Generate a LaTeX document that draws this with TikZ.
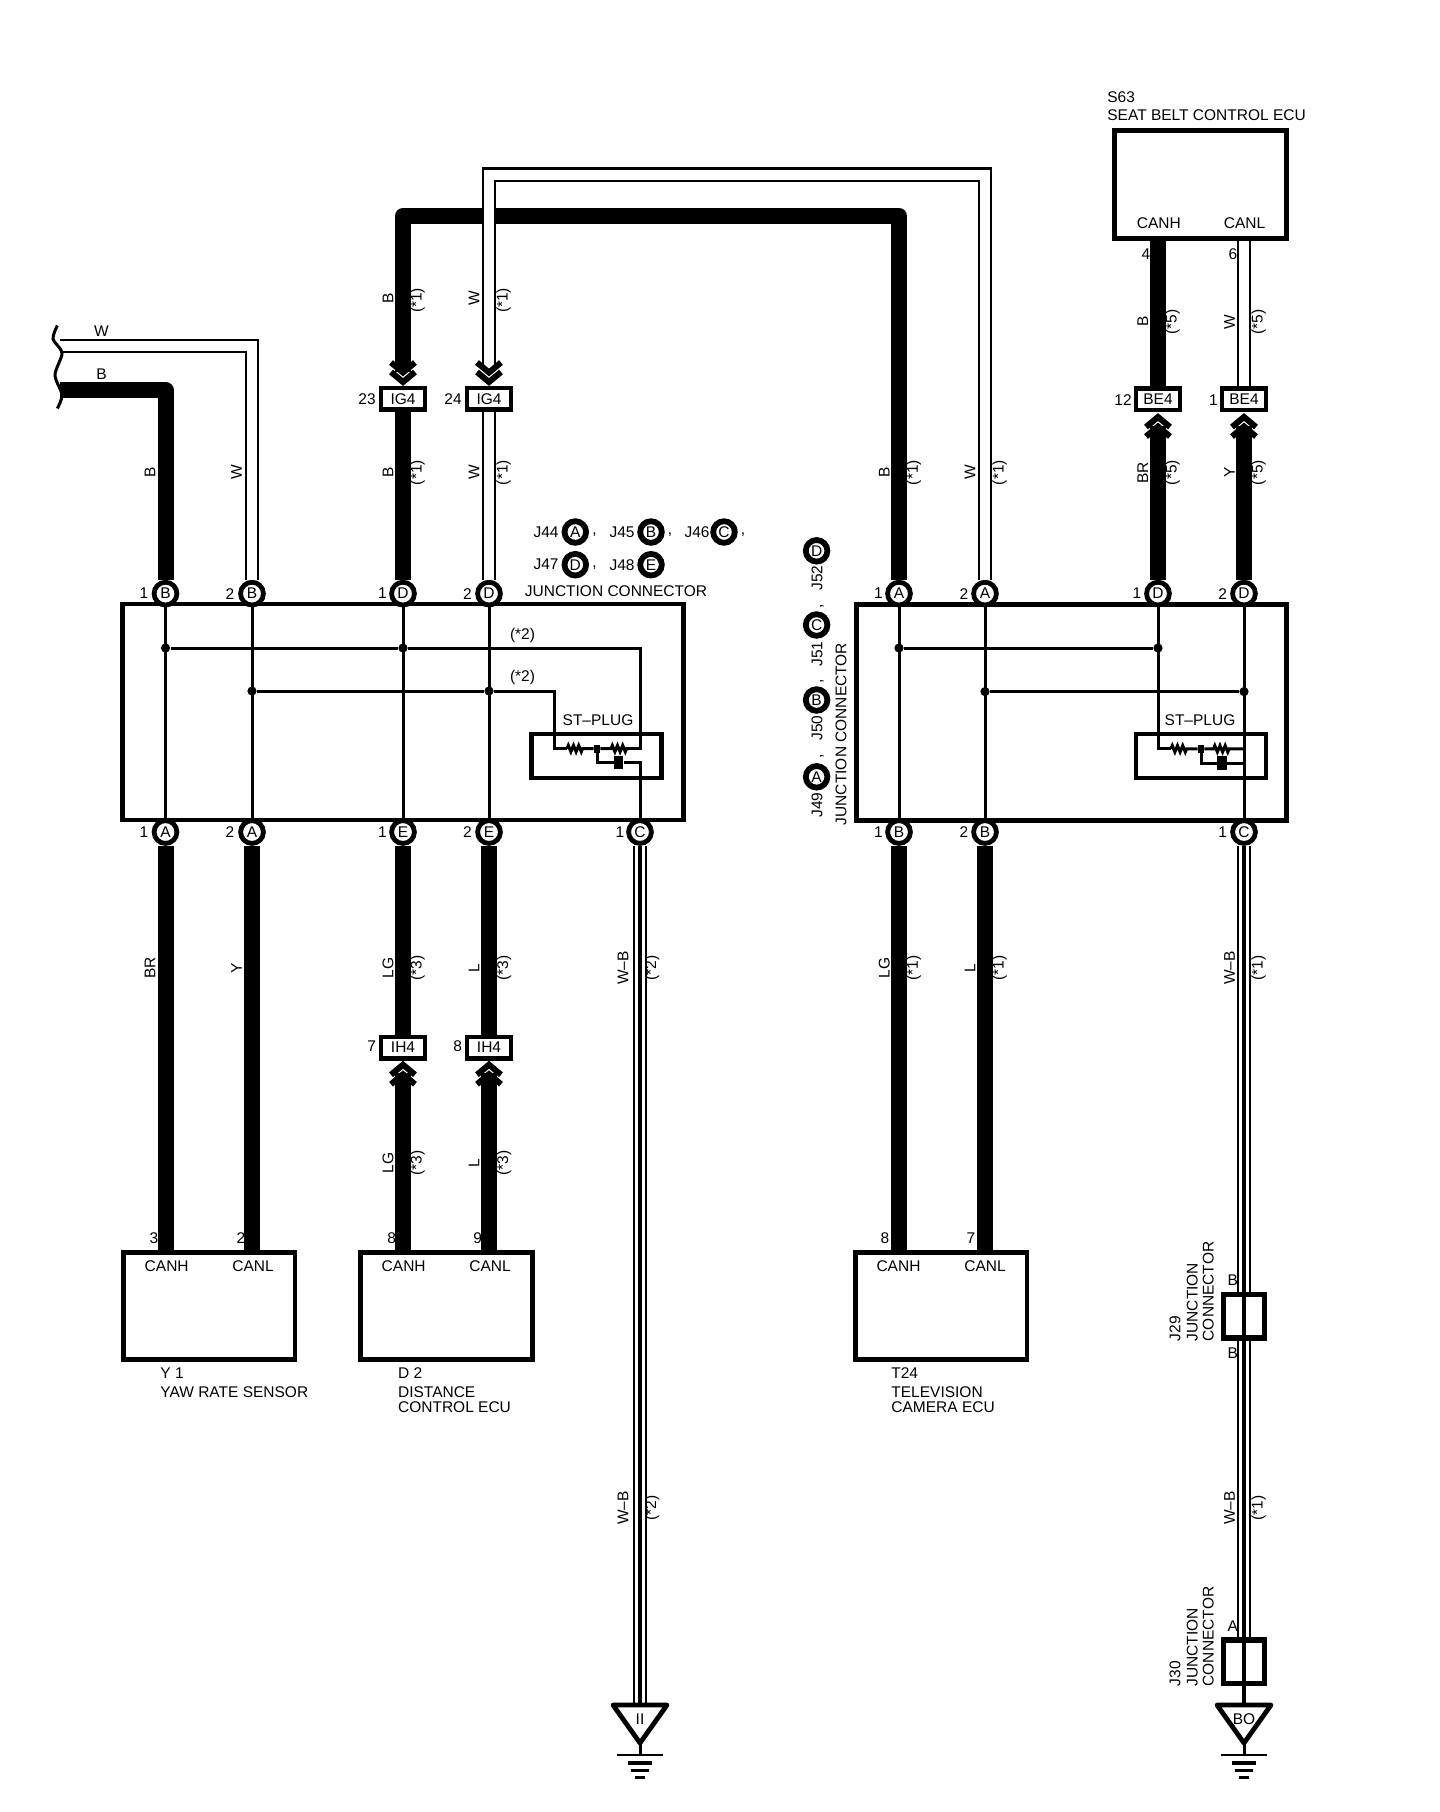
\documentclass[tikz,border=0pt]{standalone}
\usepackage{fontspec}
\setmainfont{Liberation Sans}
\usetikzlibrary{decorations.pathmorphing}
\tikzset{
    lab/.style={inner sep=0pt, font=\fontsize{7.75}{9}\selectfont},
    vlab/.style={lab, rotate=90},
    ecubox/.style={draw, line width=2.4pt, inner sep=0pt},
    connbox/.style={draw, fill=white, line width=2.2pt, inner sep=0pt, minimum width=22.1pt, minimum height=10.8pt, font=\fontsize{7.75}{9}\selectfont},
    juncbox/.style={draw, fill=white, line width=2.6pt, inner sep=0pt, minimum width=20.6pt, minimum height=21.6pt},
    pinc/.style={circle, draw, fill=white, line width=2.4pt, inner sep=0pt, minimum size=11.4pt, font=\fontsize{7.75}{9}\selectfont},
    legpin/.style={circle, draw, fill=white, line width=2.9pt, inner sep=0pt, minimum size=10.8pt, font=\fontsize{7.75}{9}\selectfont},
    dot/.style={circle, fill=black, inner sep=0pt, minimum size=4.6pt},
    sqdot/.style={rectangle, fill=black, inner sep=0pt, minimum width=3pt, minimum height=4pt},
    capn/.style={rectangle, fill=black, inner sep=0pt, minimum width=4.6pt, minimum height=6.6pt},
    thickwire/.style={line width=8pt, line join=round},
    dblwire/.style={draw=black, line width=1.2pt, double=white, double distance=5pt},
    corewire/.style={line width=2pt},
    sigline/.style={line width=1.5pt},
    resist/.style={decoration={zigzag, segment length=2.6pt, amplitude=1.6pt}},
    chevs/.pic={
        \draw[line width=3pt] (-12,14) -- (0,4) -- (12,14);
        \draw[line width=3pt] (-12,23.5) -- (0,13.5) -- (12,23.5);
    },
    gndsym/.pic={
        \draw[line width=2.4pt, line join=round] (-27,0) -- (27,0) -- (0,38) -- cycle;
        \draw[line width=1.5pt] (0,38) -- (0,50);
        \draw[line width=1.2pt] (-23,50) -- (23,50);
        \draw[line width=1.7pt] (-12,58) -- (12,58);
        \draw[line width=1.5pt] (-9,65) -- (9,65);
        \draw[line width=1.5pt] (-5,72) -- (5,72);
    }
}
\begin{document}
\begin{tikzpicture}[x=0.5pt, y=-0.5pt]
    \useasboundingbox (0,0) rectangle (1440,1812);

    \node[ecubox, minimum width=280.3pt, minimum height=108pt] (jbl) at (402.8,712) {};
    \node[ecubox, minimum width=215.2pt, minimum height=108pt] (jbr) at (1071.4,712.5) {};
    \node[ecubox, minimum width=65pt, minimum height=22pt] (stl) at (596.5,756) {};
    \node[ecubox, minimum width=65pt, minimum height=22pt] (str) at (1201,756) {};
    \node[ecubox, minimum width=85.9pt, minimum height=53.8pt] (ybox) at (209,1306) {};
    \node[ecubox, minimum width=85.9pt, minimum height=53.8pt] (dbox) at (446.2,1306) {};
    \node[ecubox, minimum width=85.9pt, minimum height=53.8pt] (tbox) at (941,1306) {};
    \node[ecubox, minimum width=85.9pt, minimum height=53.8pt] (sbox) at (1200.4,184.5) {};

    \node[pinc] (pb1) at (165.5,593.6) {B};
    \node[pinc] (pb2) at (252,593.6) {B};
    \node[pinc] (pd1) at (403,593.6) {D};
    \node[pinc] (pd2) at (489,593.6) {D};
    \node[pinc] (pa1) at (165.5,832) {A};
    \node[pinc] (pa2) at (252,832) {A};
    \node[pinc] (pe1) at (403,832) {E};
    \node[pinc] (pe2) at (489,832) {E};
    \node[pinc] (pc1) at (640,832) {C};
    \node[pinc] (qa1) at (899,593.6) {A};
    \node[pinc] (qa2) at (985,593.6) {A};
    \node[pinc] (qd1) at (1158,593.6) {D};
    \node[pinc] (qd2) at (1244,593.6) {D};
    \node[pinc] (qb1) at (899,832) {B};
    \node[pinc] (qb2) at (985,832) {B};
    \node[pinc] (qc1) at (1244,832) {C};

    \node[connbox] (ig1) at (403,398.7) {IG4};
    \node[connbox] (ig2) at (489,398.7) {IG4};
    \node[connbox] (be1) at (1158,399.3) {BE4};
    \node[connbox] (be2) at (1244,399.3) {BE4};
    \node[connbox] (ih1) at (403,1047.5) {IH4};
    \node[connbox] (ih2) at (489,1047.5) {IH4};
    \node[juncbox] (j29) at (1244,1316.3) {};
    \node[juncbox] (j30) at (1244,1661.6) {};

    \node[lab] (n1) at (144,593.6) {1};
    \node[lab] (n2) at (230,593.6) {2};
    \node[lab] (n3) at (382.5,593.6) {1};
    \node[lab] (n4) at (467.4,593.6) {2};
    \node[lab] (n5) at (144,832) {1};
    \node[lab] (n6) at (230,832) {2};
    \node[lab] (n7) at (382.5,832) {1};
    \node[lab] (n8) at (467.4,832) {2};
    \node[lab] (n9) at (620,832) {1};
    \node[lab] (n10) at (878.5,593.6) {1};
    \node[lab] (n11) at (964,593.6) {2};
    \node[lab] (n12) at (1137,593.6) {1};
    \node[lab] (n13) at (1222.8,593.6) {2};
    \node[lab] (n14) at (878.5,832) {1};
    \node[lab] (n15) at (964,832) {2};
    \node[lab] (n16) at (1222.8,832) {1};
    \node[lab] (n17) at (367,399) {23};
    \node[lab] (n18) at (453,399) {24};
    \node[lab] (n19) at (1123,399.7) {12};
    \node[lab] (n20) at (1213.5,399.7) {1};
    \node[lab] (n21) at (371.7,1046) {7};
    \node[lab] (n22) at (457.7,1046) {8};
    \node[lab] (n23) at (154,1237.7) {3};
    \node[lab] (n24) at (241,1237.7) {2};
    \node[lab] (n25) at (391.7,1237.7) {8};
    \node[lab] (n26) at (477.7,1237.7) {9};
    \node[lab] (n27) at (885,1237.7) {8};
    \node[lab] (n28) at (971,1237.7) {7};
    \node[lab] (n29) at (1146,254) {4};
    \node[lab] (n30) at (1233,254) {6};

    \node[lab] (ch1) at (166.7,1266) {CANH};
    \node[lab] (cl1) at (253,1266) {CANL};
    \node[lab] (ch2) at (403.7,1266) {CANH};
    \node[lab] (cl2) at (490,1266) {CANL};
    \node[lab] (ch3) at (898.5,1266) {CANH};
    \node[lab] (cl3) at (985,1266) {CANL};
    \node[lab] (ch4) at (1158.8,223) {CANH};
    \node[lab] (cl4) at (1244.6,223) {CANL};

    \node[lab, anchor=west] (y1a) at (160,1373) {Y 1};
    \node[lab, anchor=west] (y1b) at (160,1391.7) {YAW RATE SENSOR};
    \node[lab, anchor=west] (d2a) at (397.7,1373) {D 2};
    \node[lab, anchor=west] (d2b) at (397.7,1391.7) {DISTANCE};
    \node[lab, anchor=west] (d2c) at (397.7,1407) {CONTROL ECU};
    \node[lab, anchor=west] (t2a) at (891,1373) {T24};
    \node[lab, anchor=west] (t2b) at (891,1391.7) {TELEVISION};
    \node[lab, anchor=west] (t2c) at (891,1407) {CAMERA ECU};
    \node[lab, anchor=west] (s6a) at (1107,96.7) {S63};
    \node[lab, anchor=west] (s6b) at (1107,115) {SEAT BELT CONTROL ECU};

    \node[lab] (tw) at (101.5,331.4) {W};
    \node[lab] (tb) at (101.5,374) {B};
    \node[vlab] (w1) at (150,472.6) {B};
    \node[vlab] (w2) at (236.5,472.6) {W};
    \node[vlab] (w3) at (388,298) {B};
    \node[vlab] (w4) at (417.5,300.5) {(*1)};
    \node[vlab] (w5) at (474,298) {W};
    \node[vlab] (w6) at (503.7,300.5) {(*1)};
    \node[vlab] (w7) at (388,472.6) {B};
    \node[vlab] (w8) at (417.5,472.6) {(*1)};
    \node[vlab] (w9) at (474,472.6) {W};
    \node[vlab] (w10) at (503.7,472.6) {(*1)};
    \node[vlab] (w11) at (884.4,472.6) {B};
    \node[vlab] (w12) at (913.8,472.6) {(*1)};
    \node[vlab] (w13) at (970,472.6) {W};
    \node[vlab] (w14) at (999.7,472.6) {(*1)};
    \node[vlab] (w15) at (1142.8,321.7) {B};
    \node[vlab] (w16) at (1172.7,321.7) {(*5)};
    \node[vlab] (w17) at (1229.5,321.7) {W};
    \node[vlab] (w18) at (1258.5,321.7) {(*5)};
    \node[vlab] (w19) at (1142.8,472.6) {BR};
    \node[vlab] (w20) at (1172.7,472.6) {(*5)};
    \node[vlab] (w21) at (1229.5,472.6) {Y};
    \node[vlab] (w22) at (1258.5,472.6) {(*5)};
    \node[vlab] (w23) at (150,968) {BR};
    \node[vlab] (w24) at (236.5,968) {Y};
    \node[vlab] (w25) at (388,968) {LG};
    \node[vlab] (w26) at (417.5,968) {(*3)};
    \node[vlab] (w27) at (474,968) {L};
    \node[vlab] (w28) at (504,968) {(*3)};
    \node[vlab] (w29) at (388,1162.7) {LG};
    \node[vlab] (w30) at (417.5,1162.7) {(*3)};
    \node[vlab] (w31) at (474,1162.7) {L};
    \node[vlab] (w32) at (504,1162.7) {(*3)};
    \node[vlab] (w33) at (623,968) {W--B};
    \node[vlab] (w34) at (652,968) {(*2)};
    \node[vlab] (w35) at (623,1508) {W--B};
    \node[vlab] (w36) at (652,1508) {(*2)};
    \node[vlab] (w37) at (884.4,968) {LG};
    \node[vlab] (w38) at (913.8,968) {(*1)};
    \node[vlab] (w39) at (970,968) {L};
    \node[vlab] (w40) at (999.7,968) {(*1)};
    \node[vlab] (w41) at (1229.5,968) {W--B};
    \node[vlab] (w42) at (1258.5,968) {(*1)};
    \node[vlab] (w43) at (1229.5,1508) {W--B};
    \node[vlab] (w44) at (1258.5,1508) {(*1)};

    \node[lab] (s1) at (522.5,635) {(*2)};
    \node[lab] (s2) at (522.5,677.5) {(*2)};
    \node[lab] (st1) at (598,720) {ST--PLUG};
    \node[lab] (st2) at (1200,720) {ST--PLUG};

    \node[lab] (jl1) at (546,532) {J44};
    \node[legpin] (la) at (575.3,532) {A};
    \node[lab] (jc1) at (594.6,535) {,};
    \node[lab] (jl2) at (622,532) {J45};
    \node[legpin] (lb) at (651,532) {B};
    \node[lab] (jc2) at (670,535) {,};
    \node[lab] (jl3) at (697,532) {J46};
    \node[legpin] (lc) at (724,532) {C};
    \node[lab] (jc3) at (743,535) {,};
    \node[lab] (jl4) at (546,564.7) {J47};
    \node[legpin] (ld) at (575.3,564.7) {D};
    \node[lab] (jc4) at (594.6,568) {,};
    \node[lab] (jl5) at (622,564.7) {J48};
    \node[legpin] (le) at (651,564.7) {E};
    \node[lab] (jt1) at (616,590.8) {JUNCTION CONNECTOR};

    \node[vlab] (jr1) at (817,805) {J49};
    \node[legpin] (ra) at (816.6,776.8) {A};
    \node[vlab] (jd1) at (822,756) {,};
    \node[vlab] (jr2) at (817,728) {J50};
    \node[legpin] (rb) at (816.6,700) {B};
    \node[vlab] (jd2) at (822,681) {,};
    \node[vlab] (jr3) at (817,654) {J51};
    \node[legpin] (rc) at (816.6,625) {C};
    \node[vlab] (jd3) at (822,606) {,};
    \node[vlab] (jr4) at (817,578) {J52};
    \node[legpin] (rd) at (816.6,550.8) {D};
    \node[vlab] (jt2) at (841,734) {JUNCTION CONNECTOR};

    \node[lab] (e1) at (1232.7,1280) {B};
    \node[lab] (e2) at (1232.7,1353.6) {B};
    \node[lab] (e3) at (1232.7,1625.7) {A};
    \node[vlab, anchor=west] (k1) at (1175,1341.6) {J29};
    \node[vlab, anchor=west] (k2) at (1192.3,1341.6) {JUNCTION};
    \node[vlab, anchor=west] (k3) at (1208.3,1341.6) {CONNECTOR};
    \node[vlab, anchor=west] (k4) at (1175,1686.7) {J30};
    \node[vlab, anchor=west] (k5) at (1192.3,1686.7) {JUNCTION};
    \node[vlab, anchor=west] (k6) at (1208.3,1686.7) {CONNECTOR};

    \coordinate (bkw) at (60,346);
    \coordinate (bkb) at (60,390);
    \coordinate (cb1) at (403,216);
    \coordinate (cb2) at (899,216);
    \coordinate (cw1) at (489,174.5);
    \coordinate (cw2) at (985,174.5);
    \coordinate (ig1in) at (403,372);
    \coordinate (ig2in) at (489,367);
    \coordinate (be1in) at (1158,426);
    \coordinate (be2in) at (1244,426);
    \coordinate (ih1in) at (403,1073);
    \coordinate (ih2in) at (489,1073);
    \coordinate (gndl) at (640,1705);
    \coordinate (gndr) at (1244,1705);

    \draw[thickwire] (bkb) -| (pb1);
    \draw[dblwire] (bkw) -| (pb2);
    \draw[thickwire] (ig1in) -- (cb1) -- (cb2) -- (qa1);
    \draw[thickwire] (ig1) -- (pd1);
    \draw[dblwire] (ig2in) -- (cw1) -- (cw2) -- (qa2);
    \draw[dblwire] (ig2) -- (pd2);
    \draw[thickwire] (be1in) -- (qd1);
    \draw[thickwire] (be2in) -- (qd2);
    \draw[thickwire] (be1) -- (be1 |- sbox.south);
    \draw[dblwire] (be2) -- (be2 |- sbox.south);
    \draw[thickwire] (pa1) -- (pa1 |- ybox.north);
    \draw[thickwire] (pa2) -- (pa2 |- ybox.north);
    \draw[thickwire] (pe1) -- (ih1);
    \draw[thickwire] (pe2) -- (ih2);
    \draw[thickwire] (ih1in) -- (ih1in |- dbox.north);
    \draw[thickwire] (ih2in) -- (ih2in |- dbox.north);
    \draw[thickwire] (qb1) -- (qb1 |- tbox.north);
    \draw[thickwire] (qb2) -- (qb2 |- tbox.north);

    \draw[dblwire] (pc1) -- (gndl);
    \draw[corewire] (pc1) -- (gndl);
    \draw[dblwire] (qc1) -- (j29);
    \draw[dblwire] (j29) -- (j30);
    \draw[corewire] (qc1) -- (gndr);

    \path (403,386) pic[rotate=180] {chevs};
    \path (489,386) pic[rotate=180] {chevs};
    \path (1158,413) pic {chevs};
    \path (1244,413) pic {chevs};
    \path (403,1060.7) pic {chevs};
    \path (489,1060.7) pic {chevs};

    \draw[sigline] (pb1) -- (pa1);
    \draw[sigline] (pb2) -- (pa2);
    \draw[sigline] (pd1) -- (pe1);
    \draw[sigline] (pd2) -- (pe2);
    \draw[sigline] (qa1) -- (qb1);
    \draw[sigline] (qa2) -- (qb2);
    \draw[sigline] (qd2) -- (qc1);

    \node[dot] (d11) at (165.5,648) {};
    \node[dot] (d12) at (403,648) {};
    \node[dot] (d21) at (252,691) {};
    \node[dot] (d22) at (489,691) {};
    \node[dot] (d31) at (899,648) {};
    \node[dot] (d32) at (1158,648) {};
    \node[dot] (d41) at (985,691.6) {};
    \node[dot] (d42) at (1244,691.6) {};

    \coordinate (a1) at (640,648);
    \coordinate (a2) at (640,748.6);
    \coordinate (a3) at (554,691);
    \coordinate (a4) at (554,748.6);
    \coordinate (a5) at (567,748.6);
    \coordinate (a6) at (585,748.6);
    \coordinate (a7) at (611,748.6);
    \coordinate (a8) at (629,748.6);
    \coordinate (a9) at (597,762.4);
    \coordinate (a10) at (640,762.4);
    \node[sqdot] (am) at (597,748.6) {};
    \node[capn] (ac) at (618.5,762.4) {};

    \coordinate (b1) at (1158,748.8);
    \coordinate (b2) at (1171,748.8);
    \coordinate (b3) at (1187,748.8);
    \coordinate (b4) at (1213.5,748.8);
    \coordinate (b5) at (1230,748.8);
    \coordinate (b6) at (1244,748.8);
    \coordinate (b7) at (1201,763);
    \coordinate (b8) at (1244,763);
    \node[sqdot] (bm) at (1201,748.8) {};
    \node[capn] (bc) at (1222,763) {};

    \draw[sigline] (d11) -- (d12) -- (a1) -- (a2) -- (a8);
    \draw[sigline] (d21) -- (d22) -- (a3) -- (a4) -- (a5);
    \draw[sigline, resist] (a5) decorate {-- (a6)} -- (am) -- (a7) decorate {-- (a8)};
    \draw[sigline] (am) -- (a9) -- (ac);
    \draw[sigline] (ac) -- (a10) -- (pc1);

    \draw[sigline] (d31) -- (d32);
    \draw[sigline] (d41) -- (d42);
    \draw[sigline] (qd1) -- (b1) -- (b2);
    \draw[sigline, resist] (b2) decorate {-- (b3)} -- (bm) -- (b4) decorate {-- (b5)} -- (b6);
    \draw[sigline] (bm) -- (b7) -- (bc);
    \draw[sigline] (bc) -- (b8);

    \draw[line width=1.5pt] plot[smooth] coordinates {(57.4,325.5) (53,339) (62,353) (55,375) (62,394.7) (57.4,408.5)};

    \path (gndl) pic {gndsym};
    \path (gndr) pic {gndsym};
    \node[lab] (gt1) at (640,1719) {II};
    \node[lab] (gt2) at (1244,1719) {BO};
\end{tikzpicture}
\end{document}
